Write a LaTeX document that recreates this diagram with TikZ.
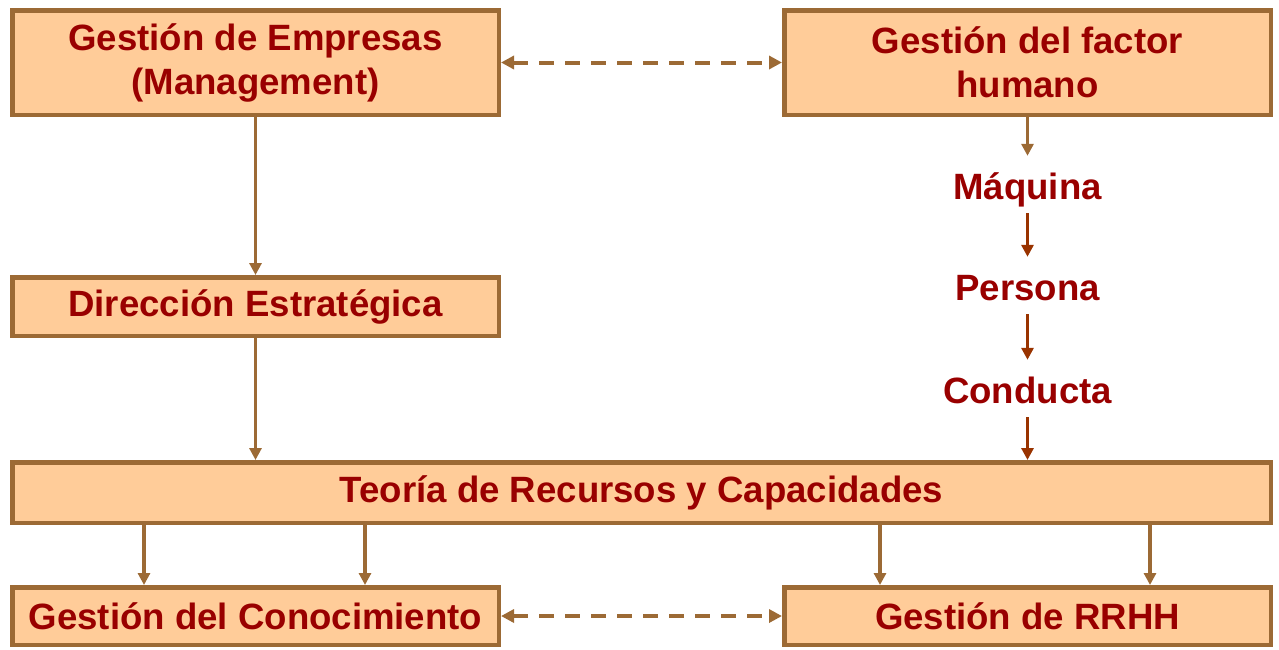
\documentclass[tikz,border=0pt]{standalone}
\usepackage{fontspec}
\setmainfont{Liberation Sans}
\usetikzlibrary{arrows.meta}
\definecolor{boxfill}{HTML}{FFCC99}
\definecolor{boxline}{HTML}{9C6A35}
\definecolor{txt}{HTML}{990000}
\definecolor{darkarr}{HTML}{993300}
\begin{document}
\begin{tikzpicture}[x=1pt,y=-1pt,
  bigfont/.style={font=\fontsize{36.6}{44}\selectfont\bfseries},
  box/.style={draw=boxline, fill=boxfill, line width=4.5pt, bigfont, text=txt, align=center, inner sep=0pt},
  lbl/.style={bigfont, text=txt, inner sep=0pt, text height=43pt, text depth=14pt, anchor=base},
  arr/.style={draw=boxline, line width=3.5pt, -{Triangle[length=12pt,width=12pt]}},
  darr/.style={arr, draw=darkarr},
  dasharr/.style={draw=boxline, line width=4pt, dash pattern=on 15pt off 11pt,
     {Triangle[length=13pt,width=13pt]}-{Triangle[length=13pt,width=13pt]}}
]
\useasboundingbox (0,0) rectangle (1279,649);

\node[box, minimum width=486.5pt, minimum height=104.5pt] (ge) at (255.5,62.5) {Gestión de Empresas\\(Management)};
\node[box, minimum width=486.5pt, minimum height=104.5pt] (gf) at (1027.5,62.5) {Gestión del factor\\humano};
\node[box, minimum width=486.5pt, minimum height=58.5pt] (de) at (255.5,306.5) {Dirección Estratégica};
\node[box, minimum width=1258.5pt, minimum height=60.5pt] (tr) at (641.5,492.5) {Teoría de Recursos y Capacidades};
\node[box, minimum width=486.5pt, minimum height=57.5pt] (gc) at (255.5,616) {Gestión del Conocimiento};
\node[box, minimum width=486.5pt, minimum height=57.5pt] (gr) at (1027.5,616) {Gestión de RRHH};

\node[lbl] (maq) at (1027.5,199) {Máquina};
\node[lbl] (per) at (1027.5,300) {Persona};
\node[lbl] (con) at (1027.5,403) {Conducta};

\coordinate (c1) at ([xshift=-111.5pt]gc.north);
\coordinate (c2) at ([xshift=109.5pt]gc.north);
\coordinate (c3) at ([xshift=-147.5pt]gr.north);
\coordinate (c4) at ([xshift=122.5pt]gr.north);

\draw[dasharr] (ge.east) -- (gf.west);
\draw[dasharr] (gc.east) -- (gr.west);

\draw[arr] (ge.south) -- (de.north);
\draw[arr] (de.south) -- (de.south |- tr.north);
\draw[arr] (gf.south) -- (maq.north);
\draw[darr] (maq.south) -- (per.north);
\draw[darr] (per.south) -- (con.north);
\draw[darr] (con.south) -- (con.south |- tr.north);

\draw[arr] (c1 |- tr.south) -- (c1);
\draw[arr] (c2 |- tr.south) -- (c2);
\draw[arr] (c3 |- tr.south) -- (c3);
\draw[arr] (c4 |- tr.south) -- (c4);
\end{tikzpicture}
\end{document}
